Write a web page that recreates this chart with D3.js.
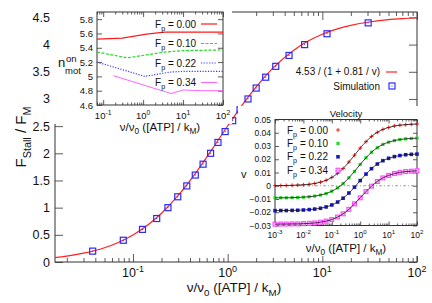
<!DOCTYPE html>
<html><head><meta charset="utf-8">
<script src="https://cdn.jsdelivr.net/npm/d3@7"></script>
<style>body{margin:0;background:#fff} text{font-family:"Liberation Sans",Arial,sans-serif;fill:#111}</style>
</head><body><svg id="c" width="432" height="303"></svg>
<script>
// ---------------- data ----------------
// main chart: fit curve 4.53/(1+0.81/v) sampled, and simulation points
const fitV = [0.015,0.02,0.03,0.05,0.07,0.1,0.15,0.2,0.3,0.5,0.7,1,1.5,2,3,5,7,10,15,20,30,50,70,100];
const fitF = [0.082,0.109,0.162,0.263,0.360,0.498,0.708,0.897,1.224,1.729,2.100,2.503,2.942,3.224,3.567,3.898,4.060,4.191,4.298,4.354,4.411,4.458,4.478,4.494];
const simV = [0.0375,0.079,0.126,0.178,0.234,0.297,0.37,0.455,0.55,0.66,0.79,0.94,1.13,1.35,1.64,2.0,2.52,3.22,4.45,6.5,11.2,30.5];
const simF = [0.2,0.4,0.6,0.8,1.0,1.2,1.4,1.6,1.8,2.0,2.2,2.4,2.6,2.8,3.0,3.2,3.4,3.6,3.8,4.0,4.2,4.4];
const mainYTicks = [0,0.5,1,1.5,2,2.5,3,3.5,4,4.5];
const mainXTicks = [0.1,1,10,100];
const mainXExp = ["-1","0","1","2"];

// inset 1: n_mot^on vs v
const fpLabels = ["0.00","0.10","0.22","0.34"];
const nRedV = [0.07,0.3,1.2,3.5,10,100];   const nRed = [5.52,5.535,5.59,5.62,5.62,5.62];
const nGreenV = [0.07,0.4,1.2,3.5,10,100]; const nGreen = [5.34,5.26,5.30,5.34,5.36,5.37];
const nBlueV = [0.07,1.1,4.7,10,100];      const nBlue = [5.20,5.00,5.06,5.07,5.07];
const nMagV = [0.18,5.0,10,30,100];        const nMag = [5.01,4.76,4.81,4.80,4.80];
const in1YTicks = [4.6,4.8,5,5.2,5.4,5.6,5.8];
const in1XTicks = [0.1,1,10,100];

// inset 2: velocity vs v
const velX = [0.001,0.0016,0.0025,0.004,0.0063,0.01,0.016,0.025,0.04,0.063,0.1,0.16,0.25,0.4,0.63,1,1.6,2.5,4,6.3,10,16,25,40,63,100];
const velRed = [0.0001,0.0001,0.0002,0.0003,0.0005,0.0007,0.0011,0.0017,0.0027,0.0041,0.0063,0.0093,0.0130,0.0179,0.0231,0.0284,0.0333,0.0372,0.0403,0.0425,0.0440,0.0451,0.0457,0.0461,0.0464,0.0466];
const velGreen = [-0.0091,-0.0091,-0.0091,-0.0090,-0.0088,-0.0086,-0.0083,-0.0078,-0.0070,-0.0059,-0.0041,-0.0016,0.0016,0.0060,0.0108,0.0161,0.0211,0.0253,0.0287,0.0312,0.0329,0.0341,0.0349,0.0354,0.0357,0.0359];
const velBlue = [-0.0188,-0.0187,-0.0187,-0.0186,-0.0185,-0.0183,-0.0180,-0.0176,-0.0170,-0.0160,-0.0145,-0.0123,-0.0094,-0.0055,-0.0011,0.0039,0.0088,0.0129,0.0164,0.0189,0.0207,0.0220,0.0228,0.0234,0.0237,0.0239];
const velMag = [-0.0290,-0.0289,-0.0289,-0.0288,-0.0288,-0.0286,-0.0284,-0.0281,-0.0275,-0.0267,-0.0255,-0.0236,-0.0212,-0.0178,-0.0137,-0.0091,-0.0044,-0.0003,0.0032,0.0059,0.0078,0.0092,0.0101,0.0107,0.0110,0.0113];
const in2YTicks = [-0.03,-0.02,-0.01,0,0.01,0.02,0.03,0.04,0.05];
const in2XTicks = [0.001,0.01,0.1,1,10,100];
const in2XExp = ["-3","-2","-1","0","1","2"];

// ---------------- helpers ----------------
const svg = d3.select("#c");
const FRAME = "#333";
function rich(g, x, y, parts, size, anchor) {
  const t = g.append("text").attr("x", x).attr("y", y).attr("font-size", size)
    .attr("text-anchor", anchor || "middle");
  let shift = 0;
  parts.forEach(([s, k]) => {
    const target = k === "sup" ? -size * 0.42 : k === "sub" ? size * 0.3 : 0;
    const ts = t.append("tspan").text(s).attr("dy", target - shift);
    if (k !== "n") ts.attr("font-size", size * 0.72);
    shift = target;
  });
  return t;
}
function axes(g, x, y, xMajor, xMinor, yMajor, L, R, T, B, maj, min) {
  const ax = (a) => a.tickFormat("").tickSizeOuter(0);
  const put = (axis, tx, ty) => {
    const s = g.append("g").attr("transform", `translate(${tx},${ty})`).call(axis);
    s.select(".domain").remove();
    s.selectAll("line").attr("stroke", FRAME).attr("stroke-width", 0.8);
  };
  put(ax(d3.axisBottom(x).tickValues(xMajor).tickSize(-maj)), 0, B);
  put(ax(d3.axisTop(x).tickValues(xMajor).tickSize(-maj)), 0, T);
  put(ax(d3.axisBottom(x).tickValues(xMinor).tickSize(-min)), 0, B);
  put(ax(d3.axisTop(x).tickValues(xMinor).tickSize(-min)), 0, T);
  put(ax(d3.axisLeft(y).tickValues(yMajor).tickSize(-maj)), L, 0);
  put(ax(d3.axisRight(y).tickValues(yMajor).tickSize(-maj)), R, 0);
  g.append("rect").attr("x", L).attr("y", T).attr("width", R - L).attr("height", B - T)
    .attr("fill", "none").attr("stroke", FRAME).attr("stroke-width", 1);
}
const minorsOf = (sc, majors) => sc.ticks().filter(v => !majors.some(m => Math.abs(m - v) / m < 1e-6))
  .filter(v => v >= sc.domain()[0] && v <= sc.domain()[1]);

// ---------------- main chart ----------------
const mL = 55, mR = 417, mT = 12, mB = 262;
const x = d3.scaleLog().domain([0.015, 100]).range([mL, mR]);
const y = d3.scaleLinear().domain([0, 4.6]).range([mB, mT]);
const main = svg.append("g");
axes(main, x, y, mainXTicks, minorsOf(x, mainXTicks), mainYTicks, mL, mR, mT, mB, 8, 4);
main.selectAll(".yl").data(mainYTicks).join("text").attr("class", "yl")
  .attr("x", mL - 5).attr("y", d => y(d) + 4.5).attr("text-anchor", "end").attr("font-size", 12.5)
  .text(d => d3.format("")(d));
mainXTicks.forEach((v, i) => rich(main, x(v), 277, [["10", "n"], [mainXExp[i], "sup"]], 12.5));
rich(main, 234, 292, [["ν/ν", "n"], ["0", "sub"], [" ([ATP] / k", "n"], ["M", "sub"], [")", "n"]], 13.5);
rich(main.append("g").attr("transform", "translate(26,137) rotate(-90)"), 0, 0,
  [["F", "n"], ["Stall", "sub"], [" / F", "n"], ["M", "sub"]], 15);
main.append("clipPath").attr("id", "mclip").append("rect")
  .attr("x", mL).attr("y", mT).attr("width", mR - mL).attr("height", mB - mT);
main.append("path").datum(fitV.map((v, i) => [v, fitF[i]]))
  .attr("clip-path", "url(#mclip)")
  .attr("d", d3.line().x(d => x(d[0])).y(d => y(d[1])).curve(d3.curveMonotoneX))
  .attr("fill", "none").attr("stroke", "#ff2020").attr("stroke-width", 1.2);
const simG = main.append("g");
simV.forEach((v, i) => {
  simG.append("rect").attr("x", x(v) - 3).attr("y", y(simF[i]) - 3).attr("width", 6).attr("height", 6)
    .attr("fill", "none").attr("stroke", "#2a2aff").attr("stroke-width", 1.2);
  simG.append("rect").attr("x", x(v) - 0.5).attr("y", y(simF[i]) - 0.5).attr("width", 1).attr("height", 1).attr("fill", "#2a2aff");
});
main.append("text").attr("x", 380).attr("y", 75).attr("text-anchor", "end").attr("font-size", 10)
  .text("4.53 / (1 + 0.81 / v)");
main.append("line").attr("x1", 386).attr("x2", 397).attr("y1", 72).attr("y2", 72)
  .attr("stroke", "#ff2020").attr("stroke-width", 1.2);
main.append("text").attr("x", 380).attr("y", 89.5).attr("text-anchor", "end").attr("font-size", 10).text("Simulation");
main.append("rect").attr("x", 389).attr("y", 83).attr("width", 6).attr("height", 6)
  .attr("fill", "none").attr("stroke", "#2a2aff").attr("stroke-width", 1.2);
main.append("rect").attr("x", 391.5).attr("y", 85.5).attr("width", 1).attr("height", 1).attr("fill", "#2a2aff");

// ---------------- inset 1 ----------------
const i1 = svg.append("g");
i1.append("rect").attr("x", 54).attr("y", 0).attr("width", 178).attr("height", 124).attr("fill", "#fff");
const aL = 97, aR = 223, aT = 12, aB = 105;
const x1 = d3.scaleLog().domain([0.07, 100]).range([aL, aR]);
const y1 = d3.scaleLinear().domain([4.6, 5.9]).range([aB, aT]);
axes(i1, x1, y1, in1XTicks, minorsOf(x1, in1XTicks), in1YTicks, aL, aR, aT, aB, 5, 2.5);
i1.selectAll(".yl").data(in1YTicks).join("text").attr("class", "yl")
  .attr("x", aL - 4).attr("y", d => y1(d) + 3.5).attr("text-anchor", "end").attr("font-size", 9.5)
  .text(d => d3.format("")(d));
in1XTicks.forEach((v, i) => rich(i1, x1(v), 119, [["10", "n"], [mainXExp[i], "sup"]], 9.5));
rich(i1, 160, 131, [["ν/ν", "n"], ["0", "sub"], [" ([ATP] / k", "n"], ["M", "sub"], [")", "n"]], 11.5);
i1.append("text").attr("x", 58).attr("y", 67).attr("font-size", 13).text("n");
i1.append("text").attr("x", 66).attr("y", 62).attr("font-size", 9.5).text("on");
i1.append("text").attr("x", 65).attr("y", 73.5).attr("font-size", 9.5).text("mot");
const s1 = [
  {v: nRedV, n: nRed, c: "#ff1a1a", d: null, w: 1.2},
  {v: nGreenV, n: nGreen, c: "#22dd22", d: "3,1.5", w: 1.2},
  {v: nBlueV, n: nBlue, c: "#3a3aff", d: "1.2,1.5", w: 1.2},
  {v: nMagV, n: nMag, c: "#ff66ff", d: null, w: 1}
];
const ln1 = d3.line().x(d => x1(d[0])).y(d => y1(d[1]));
s1.forEach((s, i) => {
  i1.append("path").datum(s.v.map((v, k) => [v, s.n[k]])).attr("d", ln1)
    .attr("fill", "none").attr("stroke", s.c).attr("stroke-width", s.w).attr("stroke-dasharray", s.d);
  const ly = 24 + i * 19.5;
  rich(i1, 196, ly + 3.5, [["F", "n"], ["p", "sub"], [" = " + fpLabels[i], "n"]], 10, "end");
  i1.append("line").attr("x1", 201).attr("x2", 217).attr("y1", ly).attr("y2", ly)
    .attr("stroke", s.c).attr("stroke-width", s.w).attr("stroke-dasharray", s.d);
});

// ---------------- inset 2 ----------------
const i2 = svg.append("g");
i2.append("rect").attr("x", 238).attr("y", 106).attr("width", 194).attr("height", 150).attr("fill", "#fff");
const bL = 275, bR = 417, bT = 119.5, bB = 225.5;
const x2 = d3.scaleLog().domain([0.001, 100]).range([bL, bR]);
const y2 = d3.scaleLinear().domain([-0.03, 0.05]).range([bB, bT]);
axes(i2, x2, y2, in2XTicks, minorsOf(x2, in2XTicks), in2YTicks, bL, bR, bT, bB, 4, 2);
i2.selectAll(".yl").data(in2YTicks).join("text").attr("class", "yl")
  .attr("x", bL - 4).attr("y", d => y2(d) + 3).attr("text-anchor", "end").attr("font-size", 8.5)
  .text(d => d3.format("")(d));
in2XTicks.forEach((v, i) => rich(i2, x2(v), 238, [["10", "n"], [in2XExp[i], "sup"]], 8.5));
rich(i2, 346, 252, [["ν/ν", "n"], ["0", "sub"], [" ([ATP] / k", "n"], ["M", "sub"], [")", "n"]], 11.5);
i2.append("text").attr("x", 346).attr("y", 117).attr("text-anchor", "middle").attr("font-size", 9.5).text("Velocity");
i2.append("text").attr("x", 241).attr("y", 178).attr("font-size", 11).text("v");
i2.append("line").attr("x1", bL).attr("x2", bR).attr("y1", y2(0)).attr("y2", y2(0))
  .attr("stroke", "#888").attr("stroke-width", 0.8).attr("stroke-dasharray", "3,2,1,2");
const s2 = [
  {d: velRed, c: "#ff2020", m: "plus"},
  {d: velGreen, c: "#22dd22", m: "cross"},
  {d: velBlue, c: "#1a1acc", m: "fsq"},
  {d: velMag, c: "#ff44ff", m: "osq"}
];
function marker(g, cx, cy, m, c) {
  if (m === "plus") {
    g.append("path").attr("d", `M${cx-2},${cy}H${cx+2}M${cx},${cy-2}V${cy+2}`).attr("stroke", c).attr("stroke-width", 1);
  } else if (m === "cross") {
    g.append("rect").attr("x", cx - 1.6).attr("y", cy - 1.6).attr("width", 3.2).attr("height", 3.2).attr("fill", c);
  } else if (m === "fsq") {
    g.append("rect").attr("x", cx - 1.8).attr("y", cy - 1.8).attr("width", 3.6).attr("height", 3.6).attr("fill", c);
  } else {
    g.append("rect").attr("x", cx - 2).attr("y", cy - 2).attr("width", 4).attr("height", 4)
      .attr("fill", "#ffb0ff").attr("stroke", c).attr("stroke-width", 1);
  }
}
const ln2 = d3.line().x(d => x2(d[0])).y(d => y2(d[1])).curve(d3.curveMonotoneX);
s2.forEach((s, i) => {
  const pts = velX.map((v, k) => [v, s.d[k]]);
  const mg = i2.append("g");
  pts.forEach(p => marker(mg, x2(p[0]), y2(p[1]), s.m, s.c));
  i2.append("path").datum(pts).attr("d", ln2).attr("fill", "none").attr("stroke", "#111").attr("stroke-width", 0.8);
  const ly = 130 + i * 13.4;
  rich(i2, 287, ly + 3.5, [["F", "n"], ["p", "sub"], [" = " + fpLabels[i], "n"]], 10, "start");
  marker(i2, 338, ly, s.m, s.c);
});
</script></body></html>
